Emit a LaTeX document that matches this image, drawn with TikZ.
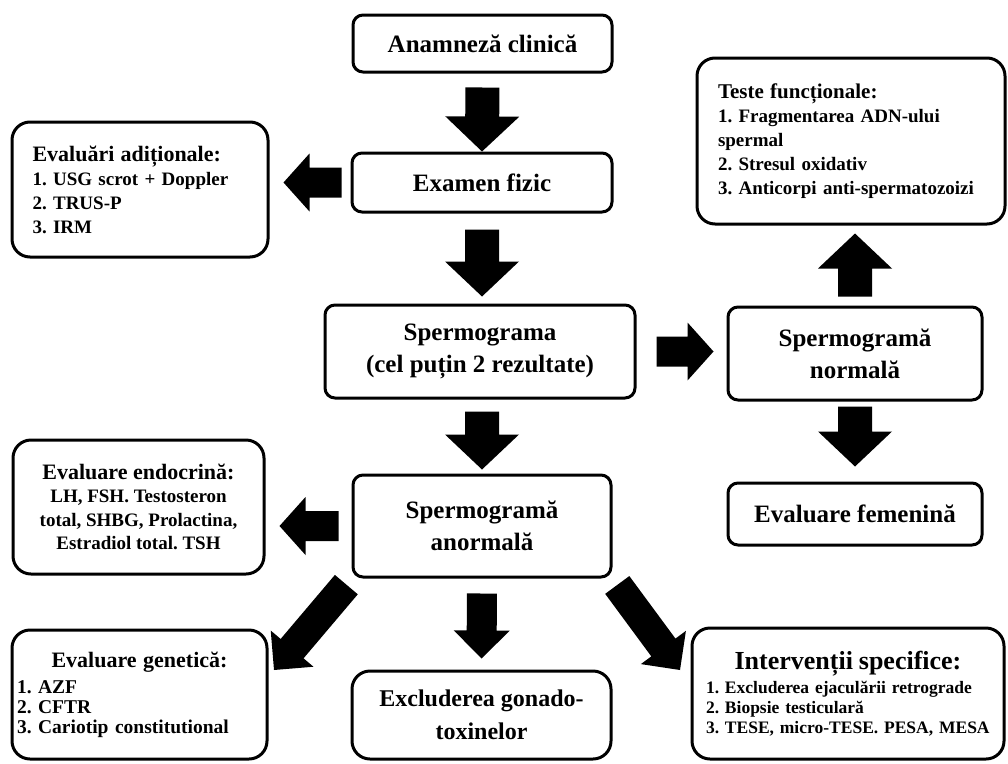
\documentclass[tikz,border=0pt]{standalone}
\usepackage{fontspec}
\setmainfont{Liberation Serif}
\usetikzlibrary{calc}
\frenchspacing

\begin{document}
\begin{tikzpicture}[x=1pt,y=-1pt,
	box/.style={draw,line width=3pt,rounded corners=10pt,inner sep=0pt,align=center,font=\bfseries\fontsize{25}{32}\selectfont},
	lst/.style={box,rounded corners=18pt,font=\bfseries\fontsize{19}{24}\selectfont},
	blk/.style n args={5}{fill,draw=none,to path={let \p1=($(\tikztostart)!#1!(\tikztotarget)$),
		\p2=($(\tikztotarget)!#2!(\tikztostart)$), \p3=($(\p2)!#5!(\p1)$) in
		($(\p1)!#3!90:(\p2)$) -- ($(\p3)!#3!-90:(\p1)$) -- ($(\p3)!#4!-90:(\p1)$) -- (\p2)
		-- ($(\p3)!#4!90:(\p1)$) -- ($(\p3)!#3!90:(\p1)$) -- ($(\p1)!#3!-90:(\p2)$) -- cycle}},
	fatv/.style 2 args={blk={#1}{#2}{17pt}{37pt}{35pt}},
	fath/.style 2 args={blk={#1}{#2}{15pt}{29pt}{26pt}},
	fatd/.style 2 args={blk={#1}{#2}{15pt}{28pt}{28pt}}]
	\useasboundingbox (0,0) rectangle (1008,763);
	\node[box,minimum width=259pt,minimum height=57pt] (anam) at (482.5,43.5) {Anamneză clinică};
	\node[box,minimum width=260pt,minimum height=59pt] (exam) at (482,182.5) {Examen fizic};
	\node[lst,text width=215pt,align=left,minimum width=256pt,minimum height=135pt] (evadd) at (140,189.5)
		{{\fontsize{22}{24}\selectfont Evaluări adiționale:}\\1. USG scrot + Doppler\\2. TRUS-P\\3. IRM};
	\node[box,minimum width=310pt,minimum height=93pt] (sperm) at (480,351.5) {Spermograma\\(cel puțin 2 rezultate)};
	\node[box,minimum width=254pt,minimum height=93pt] (normal) at (855,353.5) {Spermogramă\\normală};
	\node[lst,text width=266pt,align=left,minimum width=308pt,minimum height=166pt] (teste) at (851,141)
		{{\fontsize{21}{24}\selectfont Teste funcționale:}\\1. Fragmentarea ADN-ului\\spermal\\2. Stresul oxidativ\\3. Anticorpi anti-spermatozoizi};
	\node[box,minimum width=254pt,minimum height=62pt] (femen) at (855,514) {Evaluare femenină};
	\node[box,minimum width=258pt,minimum height=102pt] (anorm) at (482,526) {Spermogramă\\anormală};
	\node[lst,minimum width=251pt,minimum height=134pt,font=\bfseries\fontsize{19}{23.5}\selectfont] (endo) at (138.5,507)
		{{\fontsize{22}{24}\selectfont Evaluare endocrină:}\\LH, FSH. Testosteron\\total, SHBG, Prolactina,\\Estradiol total. TSH};
	\node[lst,text width=245pt,align=left,minimum width=255pt,minimum height=129pt,font=\bfseries\fontsize{19.5}{20}\selectfont] (genet) at (139.5,694.5)
		{\makebox[245pt]{\fontsize{22}{24}\selectfont Evaluare genetică:}\\[6pt]1. AZF\\2. CFTR\\3. Cariotip constitutional};
	\node[lst,font=\bfseries\fontsize{24}{33}\selectfont,minimum width=259pt,minimum height=88pt] (exclud) at (481.5,715) {Excluderea gonado-\\toxinelor};
	\node[lst,text width=284pt,align=left,minimum width=312pt,minimum height=131pt,font=\bfseries\fontsize{17.5}{20}\selectfont] (interv) at (848,693.5)
		{\makebox[284pt]{\fontsize{26}{28}\selectfont Intervenții specifice:}\\[4pt]1. Excluderea ejaculării retrograde\\2. Biopsie testiculară\\3. TESE, micro-TESE. PESA, MESA};
	\coordinate (gtip) at (274,670);
	\coordinate (itip) at (680,670);
	\draw 	(anam.south) edge[fatv={14pt}{0pt}] (exam.north)
	(exam.west) edge[fath={9pt}{14pt}] (exam.west -| evadd.east)
	(exam.south) edge[fatv={16pt}{7pt}] (exam.south |- sperm.north)
	(sperm.east) edge[fath={20pt}{13pt}] (sperm.east -| normal.west)
	(normal.north) edge[fatv={9pt}{8pt}] (normal.north |- teste.south)
	(normal.south) edge[fatv={5pt}{15pt}] (femen.north)
	(anorm.north |- sperm.south) edge[fatv={12pt}{4pt}] (anorm.north)
	(anorm.west) edge[fath={13pt}{14pt}] (anorm.west -| endo.east)
	(anorm.south west) edge[fatd={8pt}{0pt}] (gtip)
	(anorm.south) edge[fatd={15pt}{11pt}] (exclud.north)
	(anorm.south east) edge[fatd={8pt}{0pt}] (itip);
\end{tikzpicture}
\end{document}
